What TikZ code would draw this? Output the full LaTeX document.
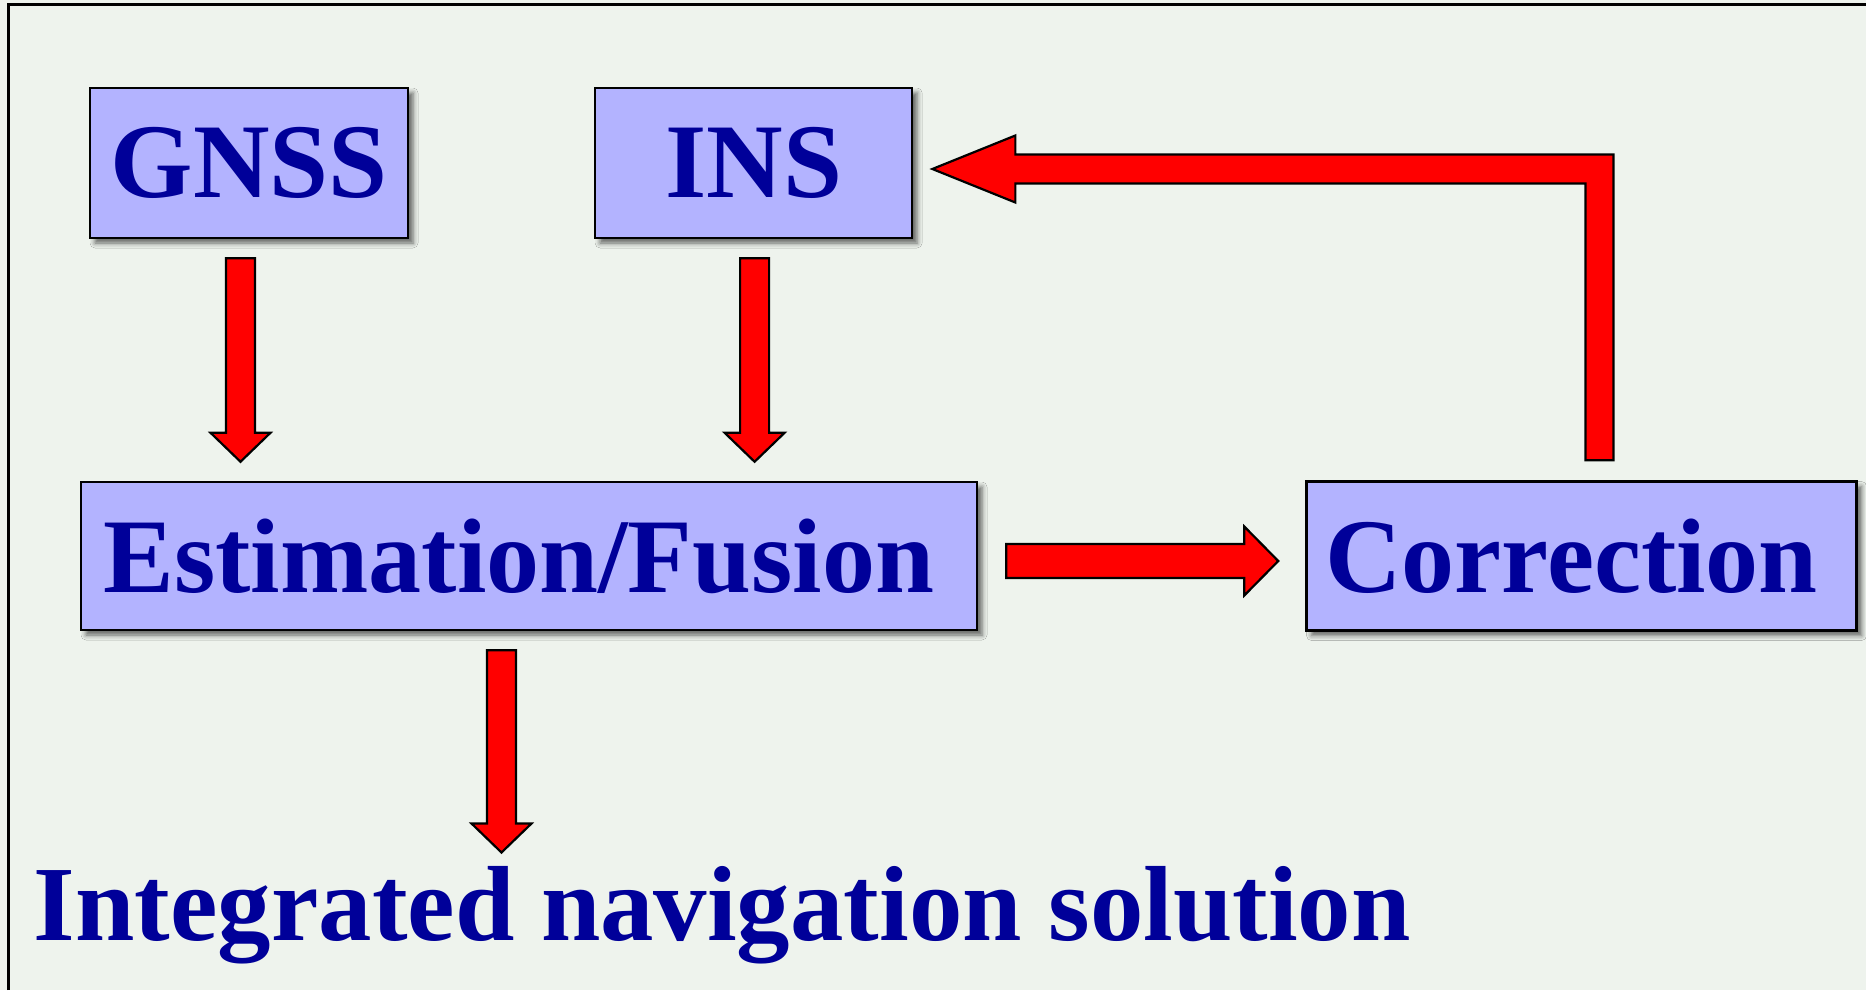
\documentclass[tikz,border=0pt]{standalone}
\usepackage{fontspec}
\setmainfont{Liberation Serif}
\usepackage{tikz}
\usetikzlibrary{positioning}
\usetikzlibrary{calc}
\usetikzlibrary{shadows.blur}
\definecolor{paper}{RGB}{238,243,237}
\definecolor{boxfill}{RGB}{179,179,255}
\definecolor{ink}{RGB}{0,0,153}
\tikzset{x=0.5pt, y=-0.5pt, font=\fontsize{53}{56}\selectfont\bfseries}
\tikzstyle{block} = [draw, line width=1.25pt, fill=boxfill, rectangle, text=ink, inner sep=0pt, minimum height=75pt, text centered, blur shadow={shadow xshift=2.5pt, shadow yshift=-2.5pt, shadow blur radius=2.5pt, shadow opacity=60}]
\tikzstyle{result} = [text=ink, inner sep=0pt, font=\fontsize{53.4}{56}\selectfont\bfseries]
\tikzstyle{flow} = [draw, fill=red, line width=1.1pt, line join=miter]
% vertical block arrow: top of the shaft, tip
\newcommand{\vflow}[2]{%
  \draw [flow] let \p1=(#1), \p2=(#2) in
    (\x1-7.25pt,\y1) -- (\x1-7.25pt,\y2+14.5pt) -- (\x1-15pt,\y2+14.5pt) -- (\x1,\y2)
    -- (\x1+15pt,\y2+14.5pt) -- (\x1+7.25pt,\y2+14.5pt) -- (\x1+7.25pt,\y1) -- cycle;}
% horizontal block arrow: tail, tip
\newcommand{\hflow}[2]{%
  \draw [flow] let \p1=(#1), \p2=(#2) in
    (\x1,\y1+8.5pt) -- (\x2-17pt,\y1+8.5pt) -- (\x2-17pt,\y1+17.25pt) -- (\x2,\y1)
    -- (\x2-17pt,\y1-17.25pt) -- (\x2-17pt,\y1-8.5pt) -- (\x1,\y1-8.5pt) -- cycle;}
\begin{document}
\begin{tikzpicture}
    \fill [paper] (0,0) rectangle (1866,990);
    \useasboundingbox (0,0) rectangle (1866,990);
    \draw [line width=1.5pt] (8,990) |- (1866,5);

    \node [block, minimum width=159pt] (gnss) at (249,163) {GNSS};
    \node [block, minimum width=158.5pt, right=92.3pt of gnss] (ins) {INS};
    \node [block, minimum width=448pt, minimum height=74pt] (est) at (529,556) {Estimation/Fusion\kern10pt};
    \node [block, minimum width=275pt, minimum height=74.5pt, right=163.5pt of est] (corr) {Correction\kern10pt};
    \node [result, anchor=base west] (out) at (33.5,940) {Integrated navigation solution};

    \coordinate (gnss_a) at ([xshift=-4.25pt, yshift=-9.5pt]gnss.south);
    \coordinate (gnss_b) at ($(gnss_a |- est.north)+(0,-19)$);
    \coordinate (ins_a) at ([xshift=0.5pt, yshift=-9.5pt]ins.south);
    \coordinate (ins_b) at ($(ins_a |- est.north)+(0,-19)$);
    \coordinate (est_a) at ([xshift=-13.75pt, yshift=-9.5pt]est.south);
    \coordinate (est_b) at ($(est_a |- out.north)+(0,-13)$);
    \coordinate (est_c) at ([xshift=14pt, yshift=-2.5pt]est.east);
    \coordinate (corr_a) at ([xshift=-13.5pt]corr.west |- est_c);
    \coordinate (fb_a) at ([xshift=9pt, yshift=10pt]corr.north);
    \coordinate (fb_b) at ([xshift=9.5pt, yshift=-3pt]ins.east);

    \vflow{gnss_a}{gnss_b}
    \vflow{ins_a}{ins_b}
    \vflow{est_a}{est_b}
    \hflow{est_c}{corr_a}
    % feedback from the correction back to the INS
    \draw [flow] let \p1=(fb_a), \p2=(fb_b) in
      (\x1-7pt,\y1) -- (\x1-7pt,\y2-7.25pt) -- (\x2+41.5pt,\y2-7.25pt) -- (\x2+41.5pt,\y2-16.75pt)
      -- (\x2,\y2) -- (\x2+41.5pt,\y2+16.75pt) -- (\x2+41.5pt,\y2+7.25pt)
      -- (\x1+7pt,\y2+7.25pt) -- (\x1+7pt,\y1) -- cycle;
\end{tikzpicture}
\end{document}
